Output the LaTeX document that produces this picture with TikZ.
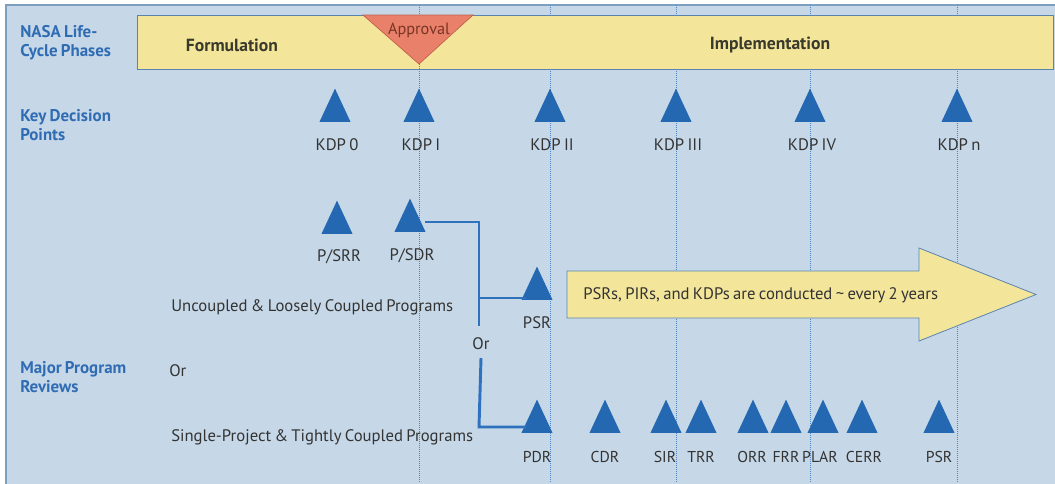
\documentclass[tikz,border=0pt]{standalone}
\usepackage{fontspec}
\setmainfont{PT Sans}[WordSpace=0.75]
\usetikzlibrary{shapes.geometric}
\definecolor{panel}{HTML}{C6D8E8}
\definecolor{panelborder}{HTML}{7E9FC0}
\definecolor{barfill}{HTML}{F3E69A}
\definecolor{barborder}{HTML}{5A84AE}
\definecolor{triblue}{HTML}{2468B2}
\definecolor{connblue}{HTML}{2E72BE}
\definecolor{guideblue}{HTML}{4A86C6}
\definecolor{apprfill}{HTML}{E8806A}
\definecolor{apprborder}{HTML}{C2604C}
\definecolor{apprtext}{HTML}{7A3424}
\definecolor{sideblue}{HTML}{2F6CB4}
\definecolor{labgray}{HTML}{333333}
\definecolor{bartext}{HTML}{3A3A2C}
\begin{document}
\begin{tikzpicture}[x=0.75pt,y=-0.75pt,
  tri/.style={isosceles triangle, isosceles triangle apex angle=50, shape border rotate=90,
    minimum width=23.3pt, minimum height=23.3pt, inner sep=0pt, fill=triblue},
  lab/.style={text=labgray, font=\fontsize{12.5}{14}\selectfont, inner sep=0pt},
  blab/.style={lab, font=\fontsize{11.8}{14}\selectfont},
  side/.style={text=sideblue, font=\bfseries\fontsize{12.7}{14.5}\selectfont, align=left, anchor=west, inner sep=0pt},
  conn/.style={draw=connblue, line width=2.2pt},
  guide/.style={draw=guideblue, line width=0.5pt, densely dotted},
  bartxt/.style={text=bartext, font=\bfseries\fontsize{13.2}{15}\selectfont, inner sep=0pt}]
\useasboundingbox (0,0) rectangle (1055,483);
\fill[white] (0,0) rectangle (1055,483);
\draw[fill=panel, draw=panelborder, line width=0.8pt] (6,5) rectangle (1060,490);
% guide lines
\foreach \gx in {419,550,676,810,957} \draw[guide] (\gx,5) -- (\gx,483);
% phase bar
\node[draw=barborder, fill=barfill, line width=0.8pt, minimum width=687pt, minimum height=40.5pt, inner sep=0pt, anchor=north west] (bar) at (137,15) {};
\draw[guide] (419,64) -- (419,69);
\draw[fill=apprfill, draw=apprborder, line width=0.5pt] (363,15) -- (473,15) -- (419,64) -- cycle;
\node[text=apprtext, font=\fontsize{12.2}{14}\selectfont, inner sep=0pt] (appr) at (419,30) {Approval};
\node[bartxt] (form) at (232,45) {Formulation};
\node[bartxt] (impl) at (770,45) {Implementation};
% side labels
\node[side] (s1) at (20,43) {NASA Life-\\Cycle Phases};
\node[side] (s2) at (20,125) {Key Decision\\Points};
\node[side] (s3) at (20,377) {Major Program\\Reviews};
% KDPs
\foreach \n/\x/\t in {k0/335/KDP 0, k1/419/KDP I, k2/550/KDP II, k3/676/KDP III, k4/810/KDP IV, kn/957/KDP n}{
  \node[tri] (\n) at (\x,112) {};
  \node[lab] (\n l) at (\x+2,145) {\t};
}
% program reviews
\node[tri] (psrr) at (337,224) {};
\node[lab] (psrrl) at (339,257) {P/SRR};
\node[tri] (psdr) at (410,222) {};
\node[lab] (psdrl) at (412,256) {P/SDR};
\node[tri] (psr) at (537,290) {};
\node[lab] (psrl) at (537,323) {PSR};
\node[lab, anchor=west] (unc) at (171,307) {Uncoupled \& Loosely Coupled Programs};
\node[lab, anchor=west] (or1) at (169,371) {Or};
\node[lab, anchor=west] (sgl) at (171,437) {Single-Project \& Tightly Coupled Programs};
\node[lab] (or2) at (481,344) {Or};
\foreach \n/\x/\lx/\t in {pdr/537/537/PDR, cdr/605/605/CDR, sir/666/665/SIR, trr/701/701/TRR, orr/753/752/ORR, frr/786/786/FRR, plar/823/820/PLAR, cerr/862/864/CERR, psrb/939/939/PSR}{
  \node[tri] (\n) at (\x,423) {};
  \node[blab] (\n l) at (\lx,457) {\t};
}
% connectors
\coordinate (j1) at (479,222);
\coordinate (j2) at (479,298);
\coordinate (j3) at (479,427);
\draw[conn] ([xshift=11.5pt]psdr.center) -- (j1) -- (479,326);
\draw[conn] (j2) -- (psr.west |- j2);
\draw[conn] (or2.south |- 0,358) -- (j3) -- (pdr.west |- j3);
% big arrow
\draw[fill=barfill, draw=barborder, line width=0.6pt] (567,271) -- (919,271) -- (919,248) -- (1036,294.5) -- (919,341) -- (919,318) -- (567,318) -- cycle;
\node[lab, anchor=west] (arrtxt) at (583,295) {PSRs, PIRs, and KDPs are conducted \textasciitilde\ every 2 years};
\end{tikzpicture}
\end{document}
